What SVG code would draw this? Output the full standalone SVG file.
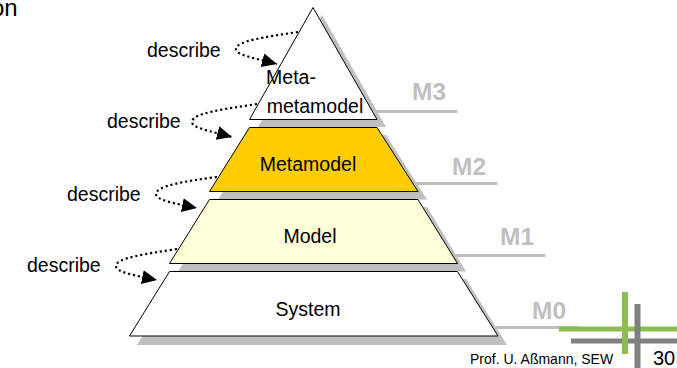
<svg xmlns="http://www.w3.org/2000/svg" width="677" height="368" viewBox="0 0 677 368">
<defs>
<marker id="arr" markerUnits="userSpaceOnUse" markerWidth="18" markerHeight="16" refX="15" refY="7" orient="auto"><path d="M0,0L15,7L0,14Z" fill="#000"/></marker>
</defs>
<style>
text{font-family:"Liberation Sans",Arial,sans-serif;fill:#000}
.lbl{font-size:19.500px}
.node{font-size:19.500px;text-anchor:middle}
.lvl{font-size:24.500px;font-weight:bold;fill:#bfbfbf}
.shadow{fill:#bfbfbf;stroke:none}
.shape{stroke:#000;stroke-width:1;stroke-linejoin:miter}
.rule{stroke:#bfbfbf;stroke-width:3;fill:none}
.conn{fill:none;stroke:#000;stroke-width:2.200;stroke-dasharray:2.200 2.800;marker-end:url(#arr)}
.g{stroke:#8fbc50;fill:none}
.k{stroke:#808080;fill:none}
</style>
<rect width="677" height="368" fill="#fff"/>
<text x="-9" y="16" font-size="24">on</text>
<g id="levels">
<path class="rule" d="M376,111.500H457.500"/><text class="lvl" x="412" y="100">M3</text>
<path class="rule" d="M416,183.500H497.500"/><text class="lvl" x="452" y="175">M2</text>
<path class="rule" d="M456,255.500H545.500"/><text class="lvl" x="500" y="245">M1</text>
<path class="rule" d="M496,327.500H578"/><text class="lvl" x="532" y="319">M0</text>
</g>
<g id="meta-metamodel">
<path class="shadow" d="M322,15L386,127H258Z"/>
<path class="shape" fill="#fff" d="M313,7.500L377,119.500H249.500Z"/>
<text class="node" x="291" y="84">Meta-</text>
<text class="node" x="315" y="113">metamodel</text>
</g>
<g id="metamodel">
<path class="shadow" d="M258,135H386L427,199.500H218Z"/>
<path class="shape" fill="#ffcc00" d="M249.500,127.500H377L418,191.500H209.500Z"/>
<text class="node" x="308" y="171">Metamodel</text>
</g>
<g id="model">
<path class="shadow" d="M218,207H427L466,271.500H178Z"/>
<path class="shape" fill="#ffffd9" d="M209.500,199.500H418L457.500,263.500H169.500Z"/>
<text class="node" x="310" y="243">Model</text>
</g>
<g id="system">
<path class="shadow" d="M178,279H466L507,345H137Z"/>
<path class="shape" fill="#fff" d="M169.500,271.500H457.500L498,336H129.500Z"/>
<text class="node" x="308" y="316">System</text>
</g>
<g id="connectors">
<path class="conn" d="M298,32C265,37 236,41 236,49C236,55 254,58 277,64"/>
<path class="conn" d="M257,104C225,109 192,113 192,122C192,128 210,131 232,137"/>
<path class="conn" d="M217,177C185,181 156,186 156,194C156,200 172,203 197,208"/>
<path class="conn" d="M177,249C145,254 116,258 116,266C116,272 132,275 157,280"/>
</g>
<g id="labels">
<text class="lbl" x="147" y="57">describe</text>
<text class="lbl" x="107" y="128">describe</text>
<text class="lbl" x="67" y="201">describe</text>
<text class="lbl" x="27" y="272">describe</text>
</g>
<g id="footer">
<path class="g" stroke-width="5" d="M559,329H677"/>
<path class="k" stroke-width="5" d="M571,341H677"/>
<path class="g" stroke-width="6" d="M625,292V354"/>
<path class="k" stroke-width="6" d="M637.500,304V368"/>
<text x="470" y="364" font-size="14">Prof. U. Aßmann, SEW</text>
<text x="653" y="365" font-size="20">30</text>
</g>
</svg>
